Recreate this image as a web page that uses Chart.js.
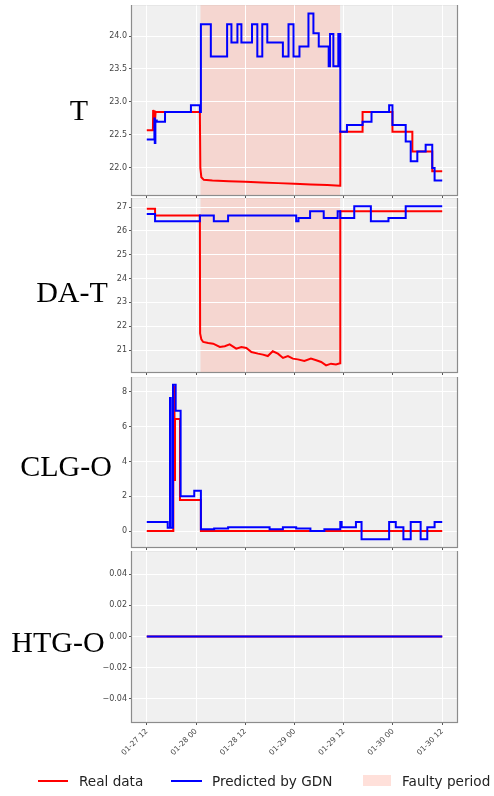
<!DOCTYPE html>
<html>
<head>
<meta charset="utf-8">
<script src="https://cdn.jsdelivr.net/npm/chart.js@4.4.1/dist/chart.umd.min.js"></script>
<style>
  html, body { margin: 0; padding: 0; background: #fff; }
  #page { position: relative; width: 494px; height: 796px; overflow: hidden; }
  canvas { position: absolute; left: 0; }
  .name {
    position: absolute; transform: translate(-50%, -50%);
    font-family: 'Liberation Serif', 'Times New Roman', serif; font-size: 30px; color: #000;
    white-space: nowrap;
  }
  .legend {
    position: absolute; top: 772px; left: 0; width: 494px; height: 18px;
    font-family: 'DejaVu Sans', sans-serif; font-size: 13.6px; color: #222;
  }
  .legend span { position: absolute; top: 0; line-height: 18px; white-space: nowrap; }
  .legend i { position: absolute; display: block; }
</style>
</head>
<body>
<div id="page">
  <canvas id="c-t" width="494" height="194"></canvas>
  <canvas id="c-dat" width="494" height="178"></canvas>
  <canvas id="c-clg" width="494" height="174"></canvas>
  <canvas id="c-htg" width="494" height="219"></canvas>

  <div class="name" style="left:79px; top:110px;">T</div>
  <div class="name" style="left:72px; top:292px;">DA-T</div>
  <div class="name" style="left:66px; top:466px;">CLG-O</div>
  <div class="name" style="left:58px; top:642px;">HTG-O</div>

  <div class="legend">
    <i style="left:38px; top:8px; width:30px; height:2px; background:#ff0000;"></i>
    <span style="left:79px;">Real data</span>
    <i style="left:171px; top:8px; width:31px; height:2px; background:#0000ff;"></i>
    <span style="left:212px;">Predicted by GDN</span>
    <i style="left:363px; top:3px; width:28px; height:11px; background:rgba(255,160,140,0.32);"></i>
    <span style="left:402px;">Faulty period</span>
  </div>
</div>

<script>
// x axis is in hours counted from 01-27 12:00
const xTickHours = [0, 12, 24, 36, 48, 60, 72];
const xTickLabels = ['01-27 12', '01-28 00', '01-28 12', '01-29 00', '01-29 12', '01-30 00', '01-30 12'];
const faultStart = 13.1;
const faultEnd = 47.1;

// T
const tTicks = [22.0, 22.5, 23.0, 23.5, 24.0];
const tReal = [
  [0, 22.57], [1.5, 22.57], [1.55, 22.88], [1.65, 22.6], [1.8, 22.87], [1.95, 22.65], [2.15, 22.85],
  [12.94, 22.85], [13.05, 22.0], [13.3, 21.86], [13.9, 21.82], [16, 21.81], [20, 21.80], [24, 21.79],
  [28, 21.78], [32, 21.77], [36, 21.76], [40, 21.75], [44, 21.74], [47.1, 21.73],
  [47.16, 22.55], [52.59, 22.55], [52.59, 22.85], [59.87, 22.85], [59.87, 22.55], [64.72, 22.55],
  [64.72, 22.25], [69.57, 22.25], [69.57, 21.95], [72, 21.95]
];
const tPred = [
  [0, 22.43], [1.86, 22.75], [1.95, 22.38], [2.1, 22.72], [2.43, 22.70], [4.45, 22.85], [10.76, 22.95],
  [12.94, 22.85], [13.19, 24.18], [15.61, 23.69], [19.58, 24.18], [20.63, 23.90], [22.09, 24.18],
  [23.06, 23.90], [25.65, 24.18], [26.94, 23.69], [28.15, 24.18], [29.37, 23.90], [33.17, 23.69],
  [34.54, 24.18], [35.76, 23.69], [37.21, 23.84], [39.40, 24.34], [40.61, 24.04], [41.91, 23.84],
  [44.33, 23.54], [44.66, 24.03], [45.47, 23.54], [46.68, 24.03], [47.16, 22.55], [48.78, 22.65],
  [52.59, 22.70], [54.77, 22.85], [59.06, 22.95], [59.87, 22.65], [63.10, 22.40], [64.32, 22.10],
  [65.93, 22.25], [67.96, 22.35], [69.57, 22.0], [70.14, 21.81], [72, 21.81]
];

// DA-T
const datTicks = [21, 22, 23, 24, 25, 26, 27];
const datReal = [
  [0, 26.93], [2.02, 26.93], [2.02, 26.65], [12.94, 26.65], [13.0, 21.7], [13.3, 21.45], [13.75, 21.34],
  [14.97, 21.30], [16.18, 21.27], [17.8, 21.13], [19.01, 21.16], [20.2, 21.24], [21.8, 21.06],
  [23.06, 21.13], [24.27, 21.09], [25.5, 20.92], [27.1, 20.85], [28.3, 20.81], [29.5, 20.75],
  [30.7, 20.95], [31.96, 20.85], [33.2, 20.67], [34.4, 20.75], [35.6, 20.64], [36.8, 20.61],
  [38.4, 20.54], [40.0, 20.64], [41.3, 20.57], [42.5, 20.50], [43.7, 20.36], [44.9, 20.43],
  [46.1, 20.40], [47.1, 20.45], [47.16, 26.82], [72, 26.82]
];
const datPred = [
  [0, 26.71], [2.02, 26.40], [12.94, 26.65], [16.34, 26.40], [19.82, 26.65], [36.41, 26.40],
  [36.97, 26.54], [39.80, 26.82], [43.12, 26.54], [46.52, 26.82], [47.16, 26.54], [50.56, 27.03],
  [54.61, 26.40], [58.90, 26.54], [63.10, 27.03], [72, 27.03]
];

// CLG-O
const clgTicks = [0, 2, 4, 6, 8];
const clgReal = [
  [0, 0], [6.47, 8.3], [6.75, 2.93], [6.88, 6.44], [8.09, 1.79], [13.19, 0], [72, 0]
];
const clgPred = [
  [0, 0.52], [5.10, 0.19], [5.66, 7.65], [5.85, 0.19], [6.39, 8.42], [7.04, 6.92], [8.25, 2.0],
  [11.57, 2.31], [13.19, 0.10], [16.42, 0.15], [19.82, 0.21], [29.93, 0.10], [33.17, 0.21],
  [36.41, 0.15], [39.88, 0.0], [43.28, 0.10], [47.16, 0.52], [47.49, 0.21], [50.97, 0.52],
  [52.34, -0.48], [59.06, 0.52], [60.68, 0.21], [62.54, -0.48], [64.32, 0.52], [66.74, -0.48],
  [68.36, 0.21], [70.14, 0.52], [72, 0.52]
];

// HTG-O
const htgTicks = [-0.04, -0.02, 0, 0.02, 0.04];
const htgReal = [[0, 0], [72, 0]];
const htgPred = [[0, 0], [72, 0]];

Chart.defaults.font.family = "'DejaVu Sans', sans-serif";
Chart.defaults.color = '#444';

const PLOT_LEFT = 132;
const PLOT_RIGHT = 457;

// grey panel, faulty band and frame
const panelDeco = {
  id: 'panelDeco',
  beforeDraw(chart, args, opts) {
    const { ctx, chartArea: a, scales: { x } } = chart;
    ctx.save();
    ctx.fillStyle = '#f0f0f0';
    ctx.fillRect(a.left, a.top, a.width, a.height);
    if (opts.faulty) {
      const x0 = x.getPixelForValue(faultStart);
      const x1 = x.getPixelForValue(faultEnd);
      ctx.fillStyle = 'rgba(255,160,140,0.32)';
      ctx.fillRect(x0, a.top, x1 - x0, a.height);
    }
    ctx.restore();
  },
  afterDraw(chart) {
    const { ctx, chartArea: a } = chart;
    ctx.save();
    ctx.strokeStyle = '#8c8c8c';
    ctx.lineWidth = 1.2;
    ctx.strokeRect(a.left - 0.5, a.top - 0.5, a.width + 1, a.height + 1);
    ctx.restore();
  }
};

function toPoints(arr) {
  return arr.map(p => ({ x: p[0], y: p[1] }));
}

function makePanel(id, top, cfg) {
  const canvas = document.getElementById(id);
  canvas.style.top = top + 'px';
  return new Chart(canvas, {
    type: 'line',
    data: {
      datasets: [
        {
          label: 'Predicted by GDN',
          data: toPoints(cfg.pred),
          borderColor: '#0000ff',
          borderWidth: 2,
          pointRadius: 0,
          stepped: true
        },
        {
          label: 'Real data',
          data: toPoints(cfg.real),
          borderColor: '#ff0000',
          borderWidth: 2,
          pointRadius: 0,
          stepped: cfg.realStepped
        }
      ]
    },
    options: {
      responsive: false,
      animation: false,
      layout: { padding: { left: 0, right: 494 - PLOT_RIGHT, top: 0, bottom: 0 } },
      plugins: {
        legend: { display: false },
        tooltip: { enabled: false },
        panelDeco: { faulty: cfg.faulty }
      },
      scales: {
        x: {
          type: 'linear',
          min: -3.6,
          max: 75.6,
          afterBuildTicks: s => { s.ticks = xTickHours.map(v => ({ value: v })); },
          afterFit: s => {
            s.height = cfg.xHeight;
            s.paddingLeft = 0;
            s.paddingRight = 0;
          },
          grid: { color: '#ffffff', lineWidth: 1, tickColor: '#555', tickLength: 3 },
          border: { display: false },
          ticks: {
            display: cfg.showX,
            autoSkip: false,
            minRotation: 45,
            maxRotation: 45,
            padding: 2,
            font: { size: 7.5 },
            color: '#444',
            callback: v => xTickLabels[xTickHours.indexOf(v)]
          }
        },
        y: {
          type: 'linear',
          min: cfg.yMin,
          max: cfg.yMax,
          afterBuildTicks: s => { s.ticks = cfg.yTicks.map(v => ({ value: v })); },
          afterFit: s => {
            s.width = PLOT_LEFT;
            s.paddingTop = 0;
            s.paddingBottom = 0;
          },
          grid: { color: '#ffffff', lineWidth: 1, tickColor: '#555', tickLength: 3 },
          border: { display: false },
          ticks: {
            autoSkip: false,
            padding: 2,
            font: { size: 8 },
            color: '#444',
            callback: cfg.yFormat
          }
        }
      }
    },
    plugins: [panelDeco]
  });
}

makePanel('c-t', 5, {
  real: tReal, pred: tPred, realStepped: false, faulty: true,
  yMin: 21.59, yMax: 24.47, yTicks: tTicks, yFormat: v => v.toFixed(1),
  showX: false, xHeight: 4
});

makePanel('c-dat', 198, {
  real: datReal, pred: datPred, realStepped: false, faulty: true,
  yMin: 20.08, yMax: 27.38, yTicks: datTicks, yFormat: v => String(v),
  showX: false, xHeight: 4
});

makePanel('c-clg', 377, {
  real: clgReal, pred: clgPred, realStepped: true, faulty: false,
  yMin: -0.92, yMax: 8.86, yTicks: clgTicks, yFormat: v => String(v),
  showX: false, xHeight: 4
});

makePanel('c-htg', 551, {
  real: htgReal, pred: htgPred, realStepped: true, faulty: false,
  yMin: -0.055, yMax: 0.055, yTicks: htgTicks,
  yFormat: v => (v < 0 ? '\u2212' : '') + Math.abs(v).toFixed(2),
  showX: true, xHeight: 48
});
</script>
</body>
</html>
